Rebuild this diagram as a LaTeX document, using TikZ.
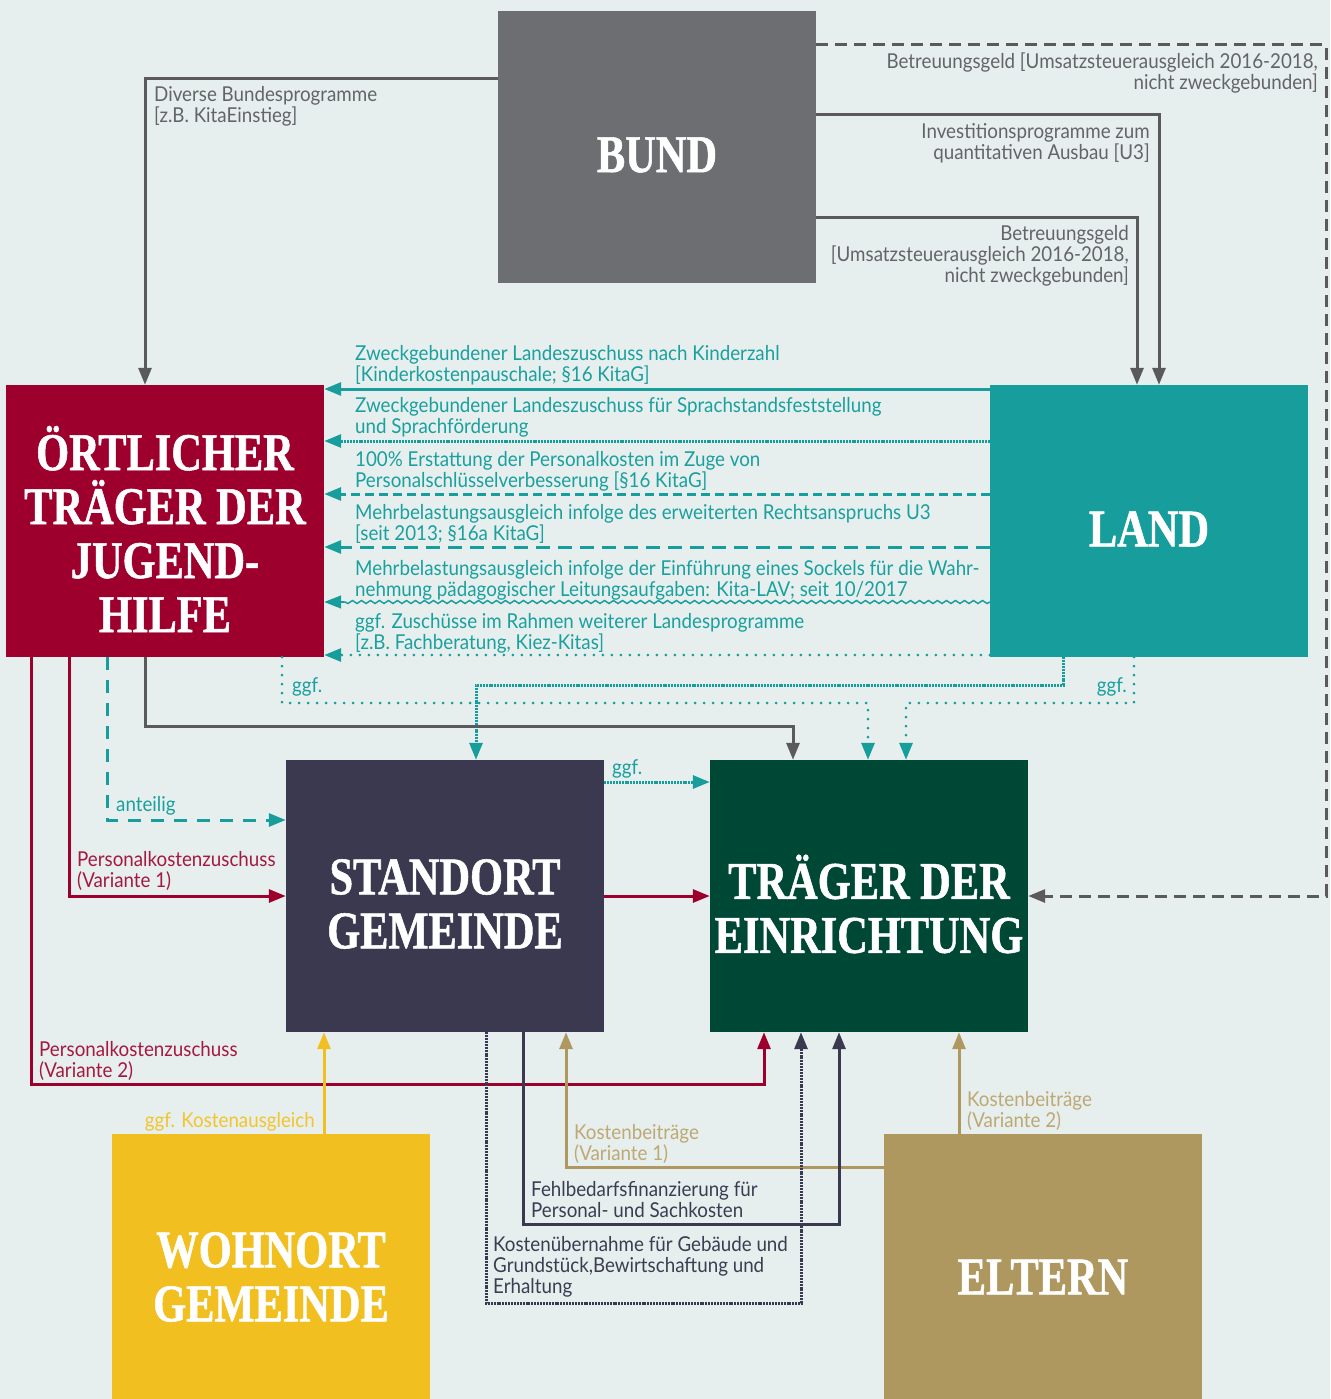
\documentclass[tikz,border=0pt]{standalone}
\usepackage{fontspec}
\usetikzlibrary{arrows.meta,decorations.pathmorphing}
\newfontfamily\lblf[FakeStretch=0.915]{Lato}
\newfontfamily\ttlf[FakeStretch=0.8,FakeBold=1]{Liberation Serif}
\definecolor{bg}{RGB}{230,239,238}
\definecolor{cbund}{RGB}{109,110,113}
\definecolor{cgray}{RGB}{90,90,92}
\definecolor{cred}{RGB}{158,0,46}
\definecolor{cteal}{RGB}{23,157,156}
\definecolor{cslate}{RGB}{58,57,80}
\definecolor{cgreen}{RGB}{0,72,54}
\definecolor{cyel}{RGB}{241,192,32}
\definecolor{cgold}{RGB}{175,152,96}
\definecolor{tgray}{RGB}{100,100,104}
\definecolor{tteal}{RGB}{26,160,158}
\definecolor{tred}{RGB}{165,25,65}
\definecolor{tyel}{RGB}{243,196,44}
\definecolor{tgold}{RGB}{190,168,115}
\definecolor{tslate}{RGB}{60,60,82}
\begin{document}
\begin{tikzpicture}[x=1pt,y=-1pt,
 box/.style={minimum width=318pt, minimum height=272pt, inner sep=0pt, draw=none},
 ttl/.style={text=white, font=\ttlf\bfseries\fontsize{53}{54}\selectfont, align=center, inner sep=0pt},
 lbl/.style={font=\lblf\fontsize{20.5}{21}\selectfont, inner sep=0pt},
 lbll/.style={lbl, anchor=north west, align=left},
 lblr/.style={lbl, anchor=north east, align=right},
 con/.style={line width=3pt},
 arr/.style={-{Triangle[length=17pt,width=13pt]}},
 dotl/.style={line width=3pt, line cap=round, dash pattern=on 0pt off 9pt},
 fined/.style={line width=3pt, dash pattern=on 2pt off 0.9pt},
]
\fill[bg] (0,0) rectangle (1330,1399);
\useasboundingbox (0,0) rectangle (1330,1399);

% boxes
\node[box, fill=cbund] (bund) at (657,147) {};
\node[box, fill=cred] (oert) at (165,521) {};
\node[box, fill=cteal] (land) at (1149,521) {};
\node[box, fill=cslate] (stand) at (445,896) {};
\node[box, fill=cgreen] (traeg) at (869,896) {};
\node[box, fill=cyel, minimum height=286pt] (wohn) at (271,1277) {};
\node[box, fill=cgold, minimum height=286pt] (elt) at (1043,1277) {};

% titles
\node[ttl] (bundT) at ([yshift=-8pt]bund.center) {BUND};
\node[ttl] (oertT) at ([yshift=-8pt]oert.center) {ÖRTLICHER\\TRÄGER DER\\JUGEND-\\HILFE};
\node[ttl] (landT) at ([yshift=-8pt]land.center) {LAND};
\node[ttl] (standT) at ([yshift=-8pt]stand.center) {STANDORT\\GEMEINDE};
\node[ttl] (traegT) at ([yshift=-8pt]traeg.center) {TRÄGER DER\\EINRICHTUNG};
\node[ttl] (wohnT) at ([yshift=0pt]wohn.center) {WOHNORT\\GEMEINDE};
\node[ttl] (eltT) at ([yshift=0pt]elt.center) {ELTERN};

% BUND connectors
\coordinate (rc) at (1326,896);
\draw[con, cgray, arr] (bund.west |- 0,79) -| (oert.north -| 145,0);
\draw[con, cgray, arr, dash pattern=on 12pt off 7pt] (bund.east |- 0,45) -| (rc) -- (traeg.east);
\draw[con, cgray, arr] (bund.east |- 0,115) -| (land.north -| 1159,0);
\draw[con, cgray, arr] (bund.east |- 0,217) -| (land.north -| 1137,0);

\node[lbll, text=tgray] (lb1) at (154,86) {Diverse Bundesprogramme\\{}[z.B. KitaEinstieg]};
\node[lblr, text=tgray] (lb2) at (1318,53) {Betreuungsgeld [Umsatzsteuerausgleich 2016-2018,\\nicht zweckgebunden]};
\node[lblr, text=tgray] (lb3) at (1150,123) {Investitionsprogramme zum\\quantitativen Ausbau [U3]};
\node[lblr, text=tgray] (lb4) at (1129,225) {Betreuungsgeld\\{}[Umsatzsteuerausgleich 2016-2018,\\nicht zweckgebunden]};

% LAND -> OERT
\coordinate (w1) at (344,602);
\draw[con, cteal, arr] (land.west |- 0,389) -- (oert.east |- 0,389);
\draw[fined, cteal, arr] (land.west |- 0,441) -- (oert.east |- 0,441);
\draw[con, cteal, arr, dash pattern=on 9pt off 5pt] (land.west |- 0,494) -- (oert.east |- 0,494);
\draw[con, cteal, arr, dash pattern=on 14pt off 8pt] (land.west |- 0,547) -- (oert.east |- 0,547);
\draw[cteal, line width=1.5pt, decorate, decoration={snake, amplitude=1.5pt, segment length=9pt}] (land.west |- w1) -- (w1);
\draw[cteal, line width=1.5pt, arr] (w1) -- (oert.east |- w1);
\draw[dotl, cteal, arr] (land.west |- 0,655) -- (oert.east |- 0,655);

\node[lbll, text=tteal] (lt1) at (355,345) {Zweckgebundener Landeszuschuss nach Kinderzahl\\{}[Kinderkostenpauschale; §16 KitaG]};
\node[lbll, text=tteal] (lt2) at (355,397) {Zweckgebundener Landeszuschuss für Sprachstandsfeststellung\\und Sprachförderung};
\node[lbll, text=tteal] (lt3) at (355,451) {100\% Erstattung der Personalkosten im Zuge von\\Personalschlüsselverbesserung [§16 KitaG]};
\node[lbll, text=tteal] (lt4) at (355,504) {Mehrbelastungsausgleich infolge des erweiterten Rechtsanspruchs U3\\{}[seit 2013; §16a KitaG]};
\node[lbll, text=tteal] (lt5) at (355,560) {Mehrbelastungsausgleich infolge der Einführung eines Sockels für die Wahr-\\nehmung pädagogischer Leitungsaufgaben: Kita-LAV; seit 10/2017};
\node[lbll, text=tteal] (lt6) at (355,613) {ggf. Zuschüsse im Rahmen weiterer Landesprogramme\\{}[z.B. Fachberatung, Kiez-Kitas]};

% middle connectors
\draw[dotl, cteal, arr] (oert.south -| 282,0) -- (282,703) -| (traeg.north -| 868,0);
\draw[dotl, cteal, arr] (land.south -| 1134,0) -- (1134,703) -| (traeg.north -| 906,0);
\draw[fined, cteal, arr] (land.south -| 1063,0) -- (1063,685) -| (stand.north -| 476,0);
\draw[con, cgray, arr] (oert.south -| 145,0) -- (145,726) -| (traeg.north -| 793,0);
\draw[fined, cteal, arr] (stand.east |- 0,782) -- (traeg.west |- 0,782);
\draw[con, cteal, arr, dash pattern=on 13pt off 10pt] (oert.south -| 107,0) |- (stand.west |- 0,820);
\draw[con, cred, arr] (oert.south -| 69,0) |- (stand.west);
\draw[con, cred, arr] (stand.east) -- (traeg.west);
\draw[con, cred, arr] (oert.south -| 31,0) -- (31,1084) -| (traeg.south -| 764,0);

\node[lbll, text=tteal] (lg1) at (292,677) {ggf.};
\node[lblr, text=tteal] (lg2) at (1127,677) {ggf.};
\node[lbll, text=tteal] (lg3) at (612,759) {ggf.};
\node[lbll, text=tteal] (lan) at (116,796) {anteilig};
\node[lbll, text=tred] (lp1) at (77,851) {Personalkostenzuschuss\\(Variante 1)};
\node[lbll, text=tred] (lp2) at (39,1041) {Personalkostenzuschuss\\(Variante 2)};

% bottom connectors
\draw[con, cyel, arr] (wohn.north -| 324,0) -- (stand.south -| 324,0);
\draw[con, cgold, arr] (elt.west |- 0,1167) -| (stand.south -| 566,0);
\draw[con, cgold, arr] (elt.north -| 959,0) -- (traeg.south -| 959,0);
\draw[con, cslate, arr] (stand.south -| 523,0) -- (523,1224) -| (traeg.south -| 839,0);
\draw[fined, cslate, arr] (stand.south -| 486,0) -- (486,1303) -| (traeg.south -| 801,0);

\node[lblr, text=tyel] (lk) at (315,1112) {ggf. Kostenausgleich};
\node[lbll, text=tgold] (lkb1) at (574,1124) {Kostenbeiträge\\(Variante 1)};
\node[lbll, text=tgold] (lkb2) at (967,1091) {Kostenbeiträge\\(Variante 2)};
\node[lbll, text=tslate] (lf) at (531,1181) {Fehlbedarfsfinanzierung für\\Personal- und Sachkosten};
\node[lbll, text=tslate] (lku) at (493,1236) {Kostenübernahme für Gebäude und\\Grundstück,Bewirtschaftung und\\Erhaltung};
\end{tikzpicture}
\end{document}
